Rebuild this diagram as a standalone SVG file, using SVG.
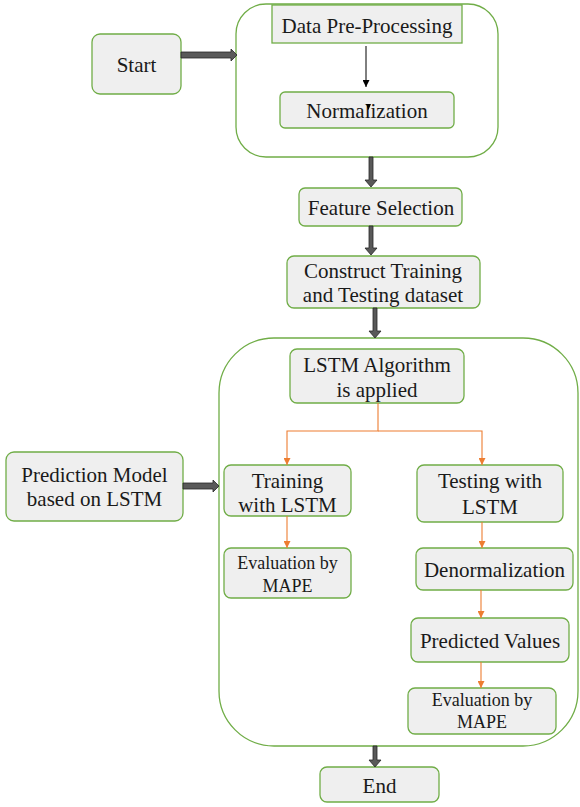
<svg xmlns="http://www.w3.org/2000/svg" width="580" height="807" viewBox="0 0 580 807">
<style>
.box{fill:#EFEFEF;stroke:#70AD47;stroke-width:1.3}
.cont{fill:#FFFFFF;stroke:#70AD47;stroke-width:1.3}
.t{font-family:"Liberation Serif","Times New Roman",serif;font-size:21px;fill:#1a1a1a;text-anchor:middle}
.s{font-size:18px}
.thick{fill:#595959;stroke:#262626;stroke-width:0.8}
.or{stroke:#ED7D31;stroke-width:1.1;fill:none;marker-end:url(#ah)}
</style>
<defs>
<marker id="ah" viewBox="0 0 10 10" refX="10" refY="5" markerWidth="7" markerHeight="7" markerUnits="userSpaceOnUse" orient="auto"><path d="M0,0 L10,5 L0,10 z" fill="#ED7D31"/></marker>
<marker id="bh" viewBox="0 0 10 10" refX="10" refY="5" markerWidth="7" markerHeight="7" markerUnits="userSpaceOnUse" orient="auto"><path d="M0,0 L10,5 L0,10 z" fill="#000"/></marker>
</defs>
<rect width="580" height="807" fill="#FFFFFF"/>
<g id="container1"><rect class="cont" x="236" y="4" width="262" height="153" rx="30"/></g>
<g id="container2"><rect class="cont" x="219" y="338" width="359" height="408" rx="55"/></g>
<g id="start"><rect class="box" x="92" y="34" width="89" height="60" rx="8"/><text class="t" x="136.5" y="72">Start</text></g>
<g id="preprocessing"><rect class="box" x="272" y="5" width="190" height="38"/><text class="t" x="367" y="33">Data Pre-Processing</text></g>
<g id="normalization"><rect class="box" x="280" y="92" width="174" height="36" rx="5"/><text class="t" x="367" y="118">Normalization</text></g>
<g id="feature"><rect class="box" x="299" y="188" width="163" height="38" rx="6"/><text class="t" x="381" y="215">Feature Selection</text></g>
<g id="construct"><rect class="box" x="287" y="256" width="193" height="52" rx="7"/><text class="t" x="383" y="278">Construct Training</text><text class="t" x="383" y="302">and Testing dataset</text></g>
<g id="lstm"><rect class="box" x="290" y="349" width="174" height="54" rx="7"/><text class="t" x="377" y="372">LSTM Algorithm</text><text class="t" x="377" y="397">is applied</text></g>
<g id="prediction"><rect class="box" x="6" y="452" width="177" height="69" rx="8"/><text class="t" x="94.5" y="482">Prediction Model</text><text class="t" x="94.5" y="506">based on LSTM</text></g>
<g id="training"><rect class="box" x="224" y="465" width="127" height="51" rx="7"/><text class="t" x="287.5" y="488">Training</text><text class="t" x="287.5" y="512">with LSTM</text></g>
<g id="evalLeft"><rect class="box" x="224" y="548" width="127" height="50" rx="7"/><text class="t s" x="287.5" y="569">Evaluation by</text><text class="t s" x="287.5" y="592">MAPE</text></g>
<g id="testing"><rect class="box" x="417" y="465" width="146" height="57" rx="7"/><text class="t" x="490" y="488">Testing with</text><text class="t" x="490" y="514">LSTM</text></g>
<g id="denorm"><rect class="box" x="416" y="548" width="157" height="42" rx="7"/><text class="t" x="494.5" y="577">Denormalization</text></g>
<g id="predicted"><rect class="box" x="411" y="618" width="158" height="44" rx="7"/><text class="t" x="490" y="648">Predicted Values</text></g>
<g id="evalRight"><rect class="box" x="408" y="688" width="148" height="46" rx="7"/><text class="t s" x="482" y="706">Evaluation by</text><text class="t s" x="482" y="728">MAPE</text></g>
<g id="end"><rect class="box" x="320" y="767" width="119" height="35" rx="7"/><text class="t" x="379.5" y="793">End</text></g>
<g id="connectors">
<path class="thick" d="M181,52 H231 V49 L237,55 L231,61 V58 H181 Z"/>
<path class="thick" d="M183,483 H213 V480 L219,486 L213,492 V489 H183 Z"/>
<path class="thick" d="M369,157 V180 H365 L371,187 L377,180 H373 V157 Z"/>
<path class="thick" d="M369,226 V248 H365 L371,255 L377,248 H373 V226 Z"/>
<path class="thick" d="M373,308 V331 H369 L375,338 L381,331 H377 V308 Z"/>
<path class="thick" d="M373,746 V760 H369 L375,767 L381,760 H377 V746 Z"/>
<line x1="366" y1="46" x2="366" y2="87" stroke="#000" stroke-width="1" marker-end="url(#bh)"/>
<path d="M366,104 L371,104 L368.5,110 Z" fill="#000"/>
<path class="or" d="M378,403 V431 H287 V465"/>
<path class="or" d="M378,431 H482 V465"/>
<path class="or" d="M287,516 V548"/>
<path class="or" d="M482,522 V548"/>
<path class="or" d="M481,590 V618"/>
<path class="or" d="M481,662 V688"/>
</g>
</svg>
